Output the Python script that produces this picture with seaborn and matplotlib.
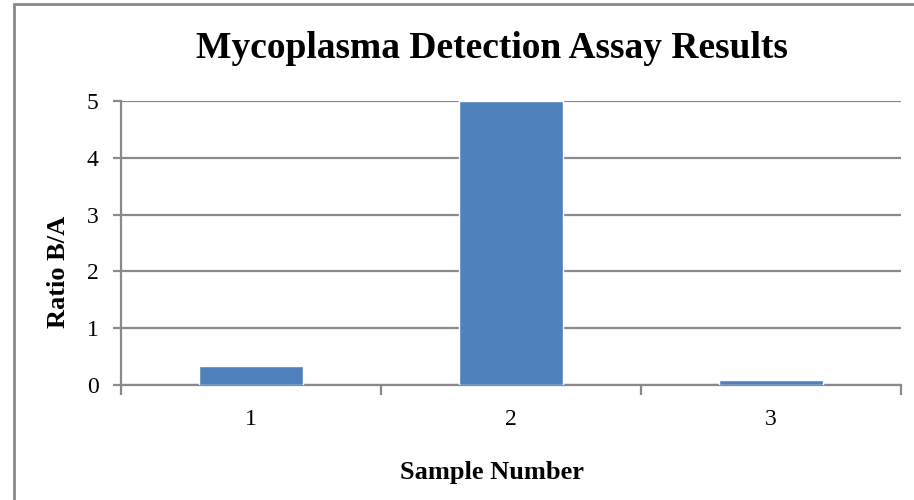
import numpy as np
import pandas as pd
import seaborn as sns
import matplotlib.pyplot as plt
from matplotlib.patches import Rectangle

# dados
amostras = ['1', '2', '3']
razao_ba = [0.33, 5.0, 0.08]
y_ticks = [0, 1, 2, 3, 4, 5]

df = pd.DataFrame({'Sample Number': amostras, 'Ratio B/A': razao_ba})

sns.set_theme(style='white')
plt.rcParams['font.family'] = ['Liberation Serif', 'DejaVu Serif']
plt.rcParams['text.color'] = 'black'
plt.rcParams['axes.labelcolor'] = 'black'
plt.rcParams['xtick.color'] = 'black'
plt.rcParams['ytick.color'] = 'black'

cinza = '#8a8a8a'
fig = plt.figure(figsize=(9.14, 5), dpi=100)
ax = fig.add_axes([121 / 914, 1 - 385 / 500, 780 / 914, 284 / 500])

sns.barplot(data=df, x='Sample Number', y='Ratio B/A', color='#4F81BD',
            width=0.4, saturation=1, ax=ax, zorder=3)

ax.set_ylim(0, 5)
ax.set_xlim(-0.5, 2.5)
ax.set_yticks(y_ticks)
ax.yaxis.grid(True, color=cinza, linewidth=1.6, zorder=0)
ax.set_axisbelow(True)

for lado in ['top', 'right']:
    ax.spines[lado].set_visible(False)
for lado in ['left', 'bottom']:
    ax.spines[lado].set_color(cinza)
    ax.spines[lado].set_linewidth(1.6)

# marcas do eixo x nas fronteiras das categorias
ax.set_xticks([-0.5, 0.5, 1.5, 2.5], minor=True)
ax.tick_params(axis='x', which='minor', length=7, width=1.6, color=cinza, direction='out', bottom=True)
ax.tick_params(axis='x', which='major', length=0, labelsize=17, pad=17)
ax.tick_params(axis='y', length=6, width=1.6, color=cinza, direction='out', left=True, labelsize=17, pad=10)
ax.tick_params(axis='both', labelcolor='black')

ax.set_xlabel('Sample Number', fontsize=19, fontweight='bold')
ax.set_ylabel('Ratio B/A', fontsize=19, fontweight='bold')
ax.xaxis.set_label_coords(0.4756, -0.268)
ax.yaxis.set_label_coords(-0.065, 0.40)

fig.text(492 / 914, 1 - 48 / 500, 'Mycoplasma Detection Assay Results', ha='center', va='center',
         fontsize=27, fontweight='bold', color='black')

# moldura da área do gráfico
fig.patches.append(Rectangle((14 / 914, -0.1), 1.2, 1 - 4 / 500 + 0.1, transform=fig.transFigure,
                             fill=False, edgecolor=cinza, linewidth=2, clip_on=False))

fig.savefig('out.png', dpi=100)
